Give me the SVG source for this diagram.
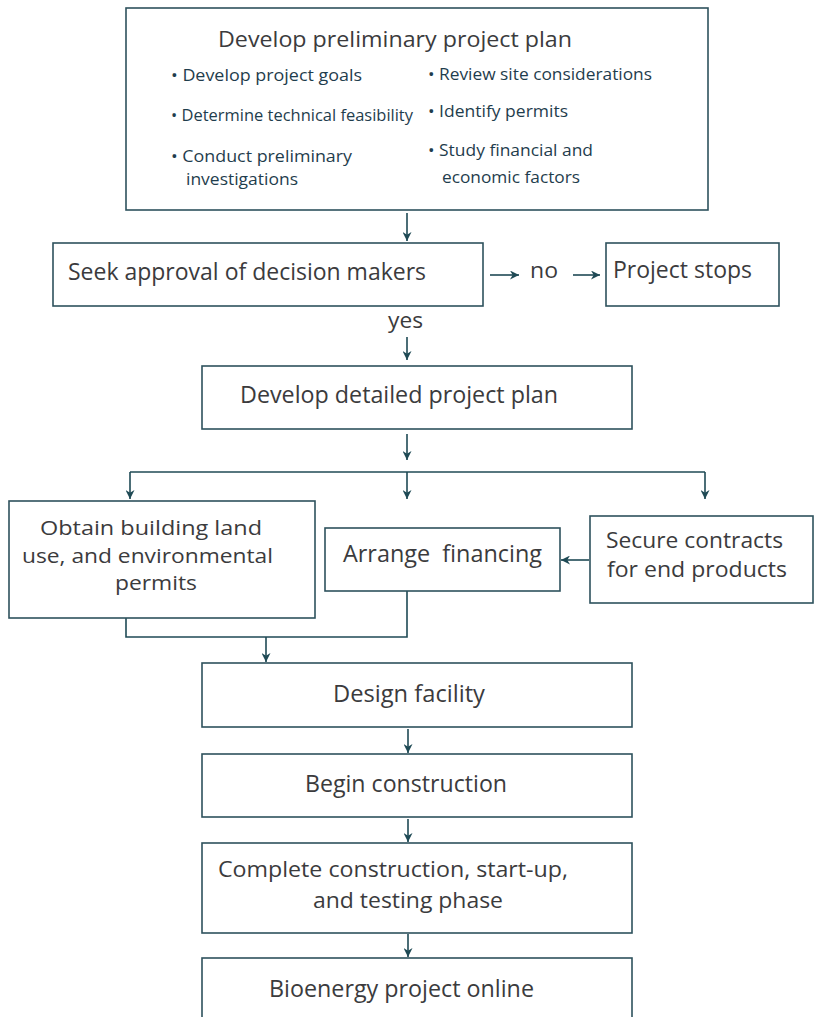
<svg xmlns="http://www.w3.org/2000/svg" width="814" height="1017" viewBox="0 0 814 1017">
<style>
.box{fill:#fff;stroke:#2e525d;stroke-width:1.6}
.t{font-family:"Open Sans","Noto Sans",sans-serif;fill:#3b3b3d}
.b{font-family:"Open Sans","Noto Sans",sans-serif;fill:#1f3d4d;font-size:16.5px}
.c{stroke:#1f4a55;stroke-width:1.6;fill:none}
.a{marker-end:url(#ah)}
</style>
<defs>
<marker id="ah" viewBox="0 0 10 10" refX="10" refY="5" markerWidth="9" markerHeight="9" markerUnits="userSpaceOnUse" orient="auto">
<path d="M0,0 L10,5 L0,10 L3,5 z" fill="#1f4a55"/>
</marker>
</defs>
<rect width="814" height="1017" fill="#fff"/>
<g id="connectors">
<line class="c a" x1="407" y1="213" x2="407" y2="241"/>
<line class="c a" x1="490" y1="275" x2="519" y2="275"/>
<line class="c a" x1="573" y1="275" x2="600" y2="275"/>
<line class="c a" x1="407" y1="337" x2="407" y2="360"/>
<line class="c a" x1="407" y1="434" x2="407" y2="460"/>
<line class="c" x1="130" y1="472" x2="705" y2="472"/>
<line class="c a" x1="130" y1="472" x2="130" y2="499"/>
<line class="c a" x1="407" y1="472" x2="407" y2="499"/>
<line class="c a" x1="705" y1="472" x2="705" y2="499"/>
<line class="c a" x1="589" y1="560" x2="561" y2="560"/>
<path class="c" d="M126,618 V637 H407 V591"/>
<line class="c a" x1="266" y1="637" x2="266" y2="662"/>
<line class="c a" x1="408" y1="729" x2="408" y2="753"/>
<line class="c a" x1="408" y1="819" x2="408" y2="842"/>
<line class="c a" x1="408" y1="934" x2="408" y2="957"/>
<text class="t" x="530" y="278" font-size="22" textLength="28" lengthAdjust="spacingAndGlyphs">no</text>
<text class="t" x="388" y="328" font-size="22" textLength="35" lengthAdjust="spacingAndGlyphs">yes</text>
</g>
<g id="preliminary">
<rect class="box" x="126" y="8" width="582" height="202"/>
<text class="t" x="218" y="47" font-size="22" textLength="354" lengthAdjust="spacingAndGlyphs">Develop preliminary project plan</text>
<text class="b" x="171" y="81" textLength="191" lengthAdjust="spacingAndGlyphs">• Develop project goals</text>
<text class="b" x="171" y="121" textLength="242" lengthAdjust="spacingAndGlyphs">• Determine technical feasibility</text>
<text class="b" x="171" y="162" textLength="181" lengthAdjust="spacingAndGlyphs">• Conduct preliminary</text>
<text class="b" x="186" y="185" textLength="112" lengthAdjust="spacingAndGlyphs">investigations</text>
<text class="b" x="428" y="80" textLength="224" lengthAdjust="spacingAndGlyphs">• Review site considerations</text>
<text class="b" x="428" y="117" textLength="140" lengthAdjust="spacingAndGlyphs">• Identify permits</text>
<text class="b" x="428" y="156" textLength="165" lengthAdjust="spacingAndGlyphs">• Study financial and</text>
<text class="b" x="442" y="183" textLength="138" lengthAdjust="spacingAndGlyphs">economic factors</text>
</g>
<g id="seek">
<rect class="box" x="53" y="243" width="430" height="63"/>
<text class="t" x="68" y="280" font-size="24" textLength="358" lengthAdjust="spacingAndGlyphs">Seek approval of decision makers</text>
</g>
<g id="stops">
<rect class="box" x="606" y="243" width="173" height="63"/>
<text class="t" x="613" y="278" font-size="24" textLength="139" lengthAdjust="spacingAndGlyphs">Project stops</text>
</g>
<g id="detailed">
<rect class="box" x="202" y="366" width="430" height="63"/>
<text class="t" x="240" y="403" font-size="24" textLength="318" lengthAdjust="spacingAndGlyphs">Develop detailed project plan</text>
</g>
<g id="permits">
<rect class="box" x="9" y="501" width="306" height="117"/>
<text class="t" x="40" y="535" font-size="20" textLength="222" lengthAdjust="spacingAndGlyphs">Obtain building land</text>
<text class="t" x="22" y="563" font-size="20" textLength="251" lengthAdjust="spacingAndGlyphs">use, and environmental</text>
<text class="t" x="115" y="590" font-size="20" textLength="82" lengthAdjust="spacingAndGlyphs">permits</text>
</g>
<g id="financing">
<rect class="box" x="325" y="528" width="235" height="63"/>
<text class="t" x="343" y="562" font-size="23" textLength="199" lengthAdjust="spacingAndGlyphs" xml:space="preserve">Arrange  financing</text>
</g>
<g id="contracts">
<rect class="box" x="590" y="516" width="223" height="87"/>
<text class="t" x="606" y="548" font-size="21" textLength="177" lengthAdjust="spacingAndGlyphs">Secure contracts</text>
<text class="t" x="607" y="577" font-size="21" textLength="180" lengthAdjust="spacingAndGlyphs">for end products</text>
</g>
<g id="design">
<rect class="box" x="202" y="663" width="430" height="64"/>
<text class="t" x="333" y="702" font-size="23" textLength="152" lengthAdjust="spacingAndGlyphs">Design facility</text>
</g>
<g id="begin">
<rect class="box" x="202" y="754" width="430" height="63"/>
<text class="t" x="305" y="792" font-size="23" textLength="202" lengthAdjust="spacingAndGlyphs">Begin construction</text>
</g>
<g id="complete">
<rect class="box" x="202" y="843" width="430" height="90"/>
<text class="t" x="218" y="877" font-size="22" textLength="350" lengthAdjust="spacingAndGlyphs">Complete construction, start-up,</text>
<text class="t" x="313" y="908" font-size="22" textLength="190" lengthAdjust="spacingAndGlyphs">and testing phase</text>
</g>
<g id="online">
<rect class="box" x="202" y="958" width="430" height="80"/>
<text class="t" x="269" y="997" font-size="23" textLength="265" lengthAdjust="spacingAndGlyphs">Bioenergy project online</text>
</g>
</svg>
